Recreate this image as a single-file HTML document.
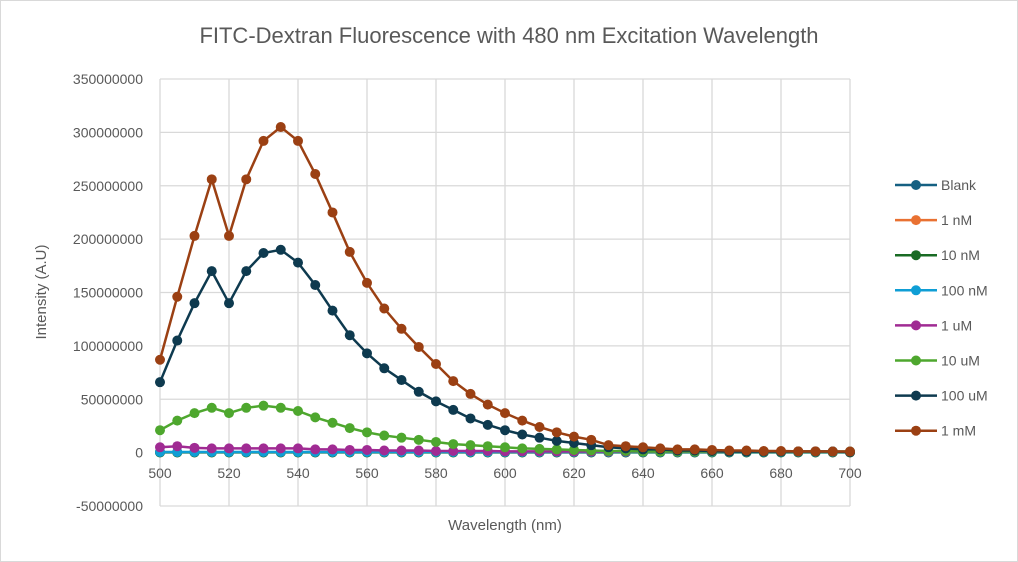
<!DOCTYPE html>
<html><head><meta charset="utf-8"><style>
body{margin:0;background:#fff;}
svg{display:block;font-family:"Liberation Sans",sans-serif;}
</style></head><body>
<svg id="chart" width="1018" height="562">
<rect x="0.5" y="0.5" width="1017" height="561" fill="#fff" stroke="#d9d9d9"/>
<text x="509" y="43" text-anchor="middle" font-size="22" fill="#595959">FITC-Dextran Fluorescence with 480 nm Excitation Wavelength</text>
<g id="grid"></g><g id="axes"></g><g id="series"></g><g id="legend"></g>
<text x="46" y="292" text-anchor="middle" font-size="15" fill="#595959" transform="rotate(-90 46 292)">Intensity (A.U)</text>
<text x="505" y="530" text-anchor="middle" font-size="15" fill="#595959">Wavelength (nm)</text>
</svg>
<script>
const seriesNames=["Blank","1 nM","10 nM","100 nM","1 uM","10 uM","100 uM","1 mM"];
const seriesColors=["#156082","#E97132","#196B24","#0F9ED5","#A02B93","#4EA72E","#0E3A4F","#9B4013"];
const yTicks=[-50000000,0,50000000,100000000,150000000,200000000,250000000,300000000,350000000];
const xTicks=[500,520,540,560,580,600,620,640,660,680,700];
const blank=[0.3,0.3,0.3,0.3,0.3,0.3,0.3,0.3,0.3,0.3,0.3,0.3,0.3,0.3,0.3,0.3,0.3,0.3,0.3,0.3,0.3,0.3,0.3,0.3,0.3,0.3,0.3,0.3,0.3,0.3,0.3,0.3,0.3,0.3,0.3,0.3,0.3,0.3,0.3,0.3,0.3];
const nM1=[0.5,0.4,0.4,0.4,0.4,0.4,0.4,0.4,0.4,0.4,0.4,0.4,0.4,0.4,0.4,0.4,0.4,0.4,0.4,0.4,0.4,0.4,0.4,0.4,0.4,0.4,0.4,0.4,0.4,0.4,0.4,0.4,0.4,0.4,0.4,0.4,0.4,0.4,0.4,0.4,0.4];
const nM10=[0.2,0.2,0.2,0.2,0.2,0.2,0.2,0.2,0.2,0.2,0.2,0.2,0.2,0.2,0.2,0.2,0.2,0.2,0.2,0.2,0.2,0.2,0.2,0.2,0.2,0.2,0.2,0.2,0.2,0.2,0.2,0.2,0.2,0.2,0.2,0.2,0.2,0.2,0.2,0.2,0.2];
const nM100=[0.6,0.6,0.6,0.6,0.6,0.6,0.6,0.6,0.6,0.6,0.6,0.6,0.6,0.6,0.6,0.6,0.6,0.6,0.6,0.6,0.6,0.6,0.6,0.6,0.6,0.6,0.6,0.6,0.6,0.6,0.6,0.6,0.6,0.6,0.6,0.6,0.6,0.6,0.6,0.6,0.6];
const uM1=[5,6,4.5,4,4,4,4,4,4,3,3,2.5,2.5,2,2,2,1.5,1.5,1.5,1.5,1.2,1.2,1.2,1,1,1,1,1,1,1,1,1,1,1,1,1,1,1,1,1,1];
const uM10=[21,30,37,42,37,42,44,42,39,33,28,23,19,16,14,12,10,8,7,6,5,4,3.5,3,2.5,2,1.5,1.5,1,1,1,1,1,1,1,1,1,1,1,1,1];
const uM100=[66,105,140,170,140,170,187,190,178,157,133,110,93,79,68,57,48,40,32,26,21,17,14,11,9,7,5,4,3,3,2,2,1.5,1,1,1,1,1,1,1,0.5];
const mM1=[87,146,203,256,203,256,292,305,292,261,225,188,159,135,116,99,83,67,55,45,37,30,24,19,15,12,7,6,5,4,3,3,2.5,2,2,1.5,1.5,1.2,1.2,1,1];
const seriesData=[blank,nM1,nM10,nM100,uM1,uM10,uM100,mM1];
const NS="http://www.w3.org/2000/svg";
const X0=160,X1=850,Y0=506,Y1=79,xmin=500,xmax=700,ymin=-50000000,ymax=350000000;
const xs=v=>X0+(v-xmin)/(xmax-xmin)*(X1-X0);
const ys=v=>Y0-(v-ymin)/(ymax-ymin)*(Y0-Y1);
function mk(tag,attrs,parent){const e=document.createElementNS(NS,tag);for(const k in attrs)e.setAttribute(k,attrs[k]);parent.appendChild(e);return e;}
const grid=document.getElementById('grid'),axes=document.getElementById('axes'),ser=document.getElementById('series'),leg=document.getElementById('legend');
yTicks.forEach(t=>{
 const l=mk('line',{x1:X0,x2:X1,y1:ys(t),y2:ys(t),stroke:'#d9d9d9','stroke-width':1.3},grid);
 
 
 const tx=mk('text',{x:143,y:ys(t)+5,'text-anchor':'end','font-size':14,fill:'#595959'},axes);
 tx.textContent=String(t);
 
 
});
xTicks.forEach(t=>{
 const l=mk('line',{x1:xs(t),x2:xs(t),y1:Y1,y2:Y0,stroke:'#d9d9d9','stroke-width':1.3},grid);
 
 
 const tx=mk('text',{x:xs(t),y:478,'text-anchor':'middle','font-size':14,fill:'#595959'},axes);
 tx.textContent=String(t);
 
 
});
const ax=mk('line',{x1:X0,x2:X1,y1:ys(0),y2:ys(0),stroke:'#bfbfbf','stroke-width':1.3},axes);


seriesData.forEach((d,i)=>{
 const g=mk('g',{},ser);
 
 
 const pts=d.map((v,j)=>xs(500+5*j)+','+ys(v*1e6)).join(' ');
 const pl=mk('polyline',{points:pts,fill:'none',stroke:seriesColors[i],'stroke-width':2.5},g);
 
 
 d.forEach((v,j)=>{
  const c=mk('circle',{cx:xs(500+5*j),cy:ys(v*1e6),r:5,fill:seriesColors[i]},g);
  
  
 });
 const ly=185+35.1*i;
 const lg=mk('g',{},leg);
 
 
 mk('line',{x1:895,x2:937,y1:ly,y2:ly,stroke:seriesColors[i],'stroke-width':2.5},lg);
 mk('circle',{cx:916,cy:ly,r:5,fill:seriesColors[i]},lg);
 const t=mk('text',{x:941,y:ly+5,'font-size':14,fill:'#595959'},lg);
 t.textContent=seriesNames[i];
});
</script>
</body></html>
